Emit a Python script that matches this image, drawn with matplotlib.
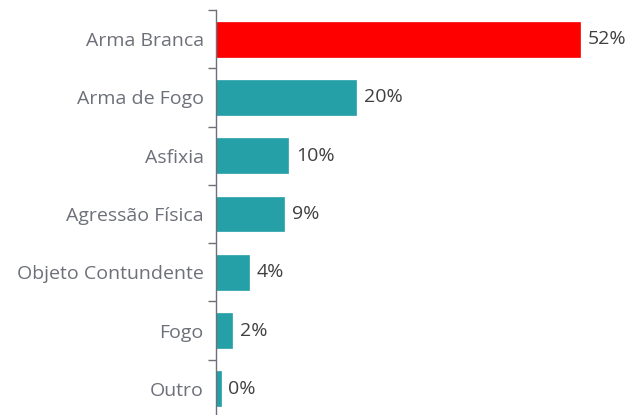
import numpy as np
import matplotlib.pyplot as plt

categories = ["Arma Branca", "Arma de Fogo", "Asfixia", "Agressão Física",
              "Objeto Contundente", "Fogo", "Outro"]
values = [52.0, 20.0, 10.3, 9.7, 4.6, 2.3, 0.6]
value_labels = ["52%", "20%", "10%", "9%", "4%", "2%", "0%"]
colors = ["#ff0000", "#26a0a7", "#26a0a7", "#26a0a7", "#26a0a7", "#26a0a7", "#26a0a7"]

plt.rcParams['font.family'] = ['Open Sans', 'DejaVu Sans']

W, H = 634, 415
fig = plt.figure(figsize=(W / 100, H / 100), dpi=100)
ax_left = 216.3 / W
ax_w = 400 / W
ax_top = 10 / H
ax_bottom = -3 / H
ax = fig.add_axes([ax_left, ax_bottom, ax_w, 1 - ax_top - ax_bottom])

y = np.arange(len(categories))
ax.barh(y, values, height=0.6, color=colors, edgecolor=colors, linewidth=0.5)
ax.set_xlim(0, 400 / 7.0)
ax.set_ylim(len(categories) - 0.5, -0.5)

for yi, v, lab in zip(y, values, value_labels):
    ax.text(v + 1.1, yi, lab, va='center', ha='left', fontsize=14, color='#404040')

ax.set_yticks(y)
ax.set_yticklabels(categories, fontsize=14, color='#6e7079')
ax.tick_params(axis='y', which='major', length=0, pad=9)
ax.set_yticks(np.arange(-0.5, len(categories) + 0.5, 1), minor=True)
ax.tick_params(axis='y', which='minor', length=6, width=1, color='#6e7079')
ax.set_xticks([])

for s in ['top', 'right', 'bottom']:
    ax.spines[s].set_visible(False)
ax.spines['left'].set_color('#6e7079')
ax.spines['left'].set_linewidth(1)

fig.savefig("out.png", dpi=100)
